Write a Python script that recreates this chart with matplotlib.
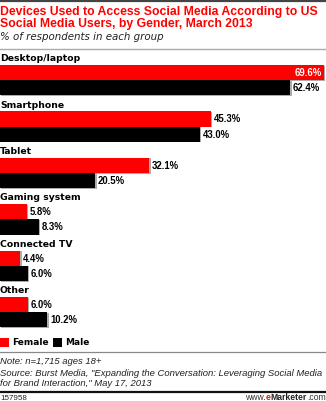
import matplotlib
matplotlib.use("Agg")
import matplotlib.pyplot as plt
from matplotlib.patches import Rectangle
import matplotlib.patheffects as pe

W, H = 326, 401
DPI = 100

categories = ["Desktop/laptop", "Smartphone", "Tablet", "Gaming system",
              "Connected TV", "Other"]
female = [69.6, 45.3, 32.1, 5.8, 4.4, 6.0]
male = [62.4, 43.0, 20.5, 8.3, 6.0, 10.2]
series_names = ["Female", "Male"]

RED = "#ff0000"
BLACK = "#000000"

fig = plt.figure(figsize=(W / DPI, H / DPI), dpi=DPI)
fig.patch.set_facecolor("white")

# Axes spans the whole canvas; y in pixel units (top-down), x in percent
ax = fig.add_axes([0, 0, 1, 1])
ax.set_xlim(0, W / 4.65)
ax.set_ylim(H, 0)
ax.axis("off")

renderer = fig.canvas.get_renderer()


def text_px(x, y, s, size, family, weight="normal", style="normal",
            color="black", ha="left", va="center"):
    return fig.text(x / W, 1 - y / H, s, ha=ha, va=va, color=color,
                    family=family, weight=weight, style=style, fontsize=size)


def fit_size(strings, total_width, family, weight="normal", style="normal",
             size0=8.0):
    """Font size at which the given strings together span total_width px."""
    w = 0.0
    for s in strings:
        t = fig.text(0, 0, s, family=family, weight=weight, style=style,
                     fontsize=size0)
        w += t.get_window_extent(renderer).width
        t.remove()
    return size0 * total_width / w


def fit_text(x, y, s, width, family, **kw):
    size = fit_size([s], width, family, weight=kw.get("weight", "normal"),
                    style=kw.get("style", "normal"))
    return text_px(x, y, s, size, family, **kw)


TITLE_FONT = "Liberation Sans"
LABEL_FONT = "DejaVu Sans"
SUB_FONT = "DejaVu Sans"
NOTE_FONT = "Liberation Sans"

# Header
ax.axhline(0.8, color="#444444", lw=1.6)
fit_text(0, 11.5, "Devices Used to Access Social Media According to US", 318,
         TITLE_FONT, weight="bold", color=RED)
fit_text(0, 24.5, "Social Media Users, by Gender, March 2013", 253,
         TITLE_FONT, weight="bold", color=RED)
fit_text(0, 36.5, "% of respondents in each group", 164,
         SUB_FONT, style="italic", color="#222222")
ax.axhline(48.5, color="#aaaaaa", lw=1.0)

# Bars
pitch = 46.4
top0 = 65.0
bar_h = 15.2
shadow = [pe.SimplePatchShadow(offset=(1, -0.5), shadow_rgbFace="#999999",
                               alpha=0.8), pe.Normal()]
cat_size = fit_size(categories, 358, LABEL_FONT, weight="bold")
val_size = fit_size(["45.3%", "43.0%"], 54, TITLE_FONT, weight="bold")
for i, cat in enumerate(categories):
    y_red = top0 + i * pitch + bar_h / 2
    y_blk = y_red + bar_h
    ax.barh(y_red, female[i], height=bar_h, color=RED, lw=0,
            path_effects=shadow)
    ax.barh(y_blk, male[i], height=bar_h, color=BLACK, lw=0,
            path_effects=shadow)
    text_px(0, top0 + i * pitch - 6.3, cat, cat_size, LABEL_FONT,
            weight="bold")
    for val, yc in ((female[i], y_red), (male[i], y_blk)):
        txt = f"{val:.1f}%"
        if val > 66:
            ax.text(val - 0.4, yc + 0.5, txt, ha="right", va="center",
                    color="white", fontsize=val_size, weight="bold",
                    family=TITLE_FONT)
        else:
            ax.text(val + 0.6, yc + 0.5, txt, ha="left", va="center",
                    color="black", fontsize=val_size, weight="bold",
                    family=TITLE_FONT)

# Legend
leg_y = 342.5
leg_size = fit_size(series_names, 60, LABEL_FONT, weight="bold")
for x0, col, name in ((0, RED, series_names[0]), (53, BLACK, series_names[1])):
    fig.patches.append(Rectangle((x0 / W, 1 - (leg_y + 4.5) / H), 8.5 / W,
                                 9 / H, transform=fig.transFigure,
                                 facecolor=col, edgecolor="none"))
    text_px(x0 + 12, leg_y, name, leg_size, LABEL_FONT, weight="bold")

# Footer
ax.axhline(351.5, color="#888888", lw=0.9)
note_lines = ["Note: n=1,715 ages 18+",
              'Source: Burst Media, "Expanding the Conversation: '
              'Leveraging Social Media',
              'for Brand Interaction," May 17, 2013']
note_size = fit_size(note_lines, 102 + 324 + 154, NOTE_FONT, style="italic")
for s, y in zip(note_lines, (362, 373, 383.5)):
    text_px(0, y, s, note_size, NOTE_FONT, style="italic", color="#222222")
ax.axhline(391.5, color="#111111", lw=1.6)

foot_y = 399.5
foot_size = 5.8
text_px(0, foot_y, "157958", foot_size, NOTE_FONT, color="#222222",
        va="baseline")
# eMarketer wordmark, built right-to-left
x = 325.5
parts = [(".com", "normal", "#333333"), ("Marketer", "bold", "#222222"),
         ("e", "bold", RED), ("www.", "normal", "#333333")]
for s, wgt, col in parts:
    t = text_px(x, foot_y, s, foot_size + 0.4, NOTE_FONT, weight=wgt,
                color=col, ha="right", va="baseline")
    x -= t.get_window_extent(renderer).width

fig.savefig("out.png", dpi=DPI, facecolor="white")
